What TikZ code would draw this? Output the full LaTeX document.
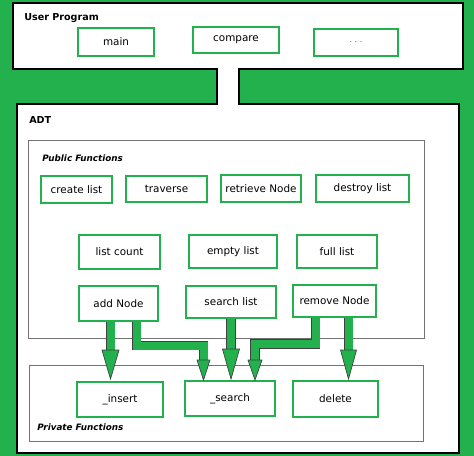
\documentclass[tikz,border=0pt]{standalone}
\usepackage{fontspec}
\setmainfont{DejaVu Sans}
\usetikzlibrary{calc}
\definecolor{paintgreen}{RGB}{34,177,76}
\tikzset{
  fbox/.style={draw=paintgreen, line width=1.4pt, fill=white, inner sep=0pt, font=\fontsize{7.8}{9}\selectfont},
  frame/.style={draw=black, line width=1.5pt, fill=white, line join=miter},
  group/.style={draw=black!55, line width=0.6pt},
  title/.style={anchor=west, inner sep=0.75pt, font=\fontsize{7.2}{8}\selectfont\bfseries},
  subtitle/.style={title, font=\fontsize{6.6}{8}\selectfont\bfseries\itshape},
  pipe/.style={draw=black!75, line width=0.5pt, double=paintgreen, double distance=6pt},
  head/.style={fill=paintgreen, draw=black!75, line width=0.5pt, line join=miter}
}
\newcommand{\blockhead}[3]{\filldraw[head] (#1) -- ++(-#2,-#3) -- ++(2*#2,0) -- cycle;}

\begin{document}
\begin{tikzpicture}[x=0.75pt,y=0.75pt,yscale=-1,xscale=1]
%Background
\fill[paintgreen] (0,0) rectangle (474,456);

%Shape: user program and adt, joined by the opening
\draw[frame] (13,3) -- (463,3) -- (463,69) -- (239,69) -- (239,104) -- (459,104) -- (459,453)
  -- (17,453) -- (17,104) -- (217,104) -- (217,69) -- (13,69) -- cycle;

%Shape: Rectangle [public / private]
\draw[group] (28,140) rectangle (424,338);
\draw[group] (29,365) rectangle (423,441);

% Text Node
\node[title] (userlabel) at (23,18) {User Program};
\node[title] (adtlabel) at (28,120) {ADT};
\node[subtitle] (publabel) at (41,158) {Public Functions};
\node[subtitle] (privlabel) at (36,427) {Private Functions};

% user program boxes
\node[fbox, minimum width=57pt, minimum height=21pt] (main) at (116,42) {main};
\node[fbox, minimum width=64.5pt, minimum height=19.5pt] (compare) at (236,40) {compare};
\node[fbox, minimum width=63pt, minimum height=20.25pt, text=black!65] (more) at (356,42.5) {{\fontsize{6}{7}\selectfont .\,\,.\,\,.}};

% public functions
\node[fbox, minimum width=53.25pt, minimum height=20.25pt] (createlist) at (76.5,189.5) {create list};
\node[fbox, minimum width=60.75pt, minimum height=19.5pt] (traverse) at (166.5,189) {traverse};
\node[fbox, minimum width=60pt, minimum height=20.25pt] (retrieve) at (261,188.5) {retrieve Node};
\node[fbox, minimum width=69.75pt, minimum height=20.25pt] (destroy) at (362.5,188.5) {destroy list};

\node[fbox, minimum width=60.75pt, minimum height=25.5pt] (listcount) at (119.5,252) {list count};
\node[fbox, minimum width=66pt, minimum height=24.75pt] (emptylist) at (233,251.5) {empty list};
\node[fbox, minimum width=60pt, minimum height=24.75pt] (fulllist) at (337,251.5) {full list};

\node[fbox, minimum width=59.25pt, minimum height=26.25pt] (addnode) at (118.5,303.5) {add Node};
\node[fbox, minimum width=67.5pt, minimum height=24pt] (searchlist) at (231,302) {search list};
\node[fbox, minimum width=62.25pt, minimum height=24pt] (removenode) at (334.5,301) {remove Node};

% private functions
\node[fbox, minimum width=64.5pt, minimum height=26.25pt] (insert) at (120,399.5) {\_insert};
\node[fbox, minimum width=67.5pt, minimum height=26.25pt] (search) at (230,398.5) {\_search};
\node[fbox, minimum width=63.75pt, minimum height=27pt] (delete) at (335.5,399) {delete};

% tips of the block arrows
\coordinate (t1) at ($(insert.north)+(-9.5,-2)$);
\coordinate (t2) at ($(search.north)+(-26.5,0)$);
\coordinate (t3) at ($(searchlist.south |- search.north)+(0,-1)$);
\coordinate (t4) at ($(search.north)+(25,0)$);
\coordinate (t5) at ($(delete.north)+(13,-1)$);

%Block arrows
\draw[pipe] ($(addnode.south)+(-8,0)$) -- ($(t1)+(0,-29)$);
\blockhead{t1}{8.5}{29}
\draw[pipe] ($(addnode.south)+(18,0)$) |- ($(t2)+(0,-34.5)$) -- ($(t2)+(0,-20)$);
\blockhead{t2}{6.5}{20}
\draw[pipe] (searchlist.south) -- ($(t3)+(0,-30)$);
\blockhead{t3}{8.5}{30}
\draw[pipe] ($(removenode.south)+(-19,0)$) |- ($(t4)+(0,-36)$) -- ($(t4)+(0,-20)$);
\blockhead{t4}{7}{20}
\draw[pipe] ($(removenode.south)+(14,0)$) -- ($(t5)+(0,-29)$);
\blockhead{t5}{8}{29}
\end{tikzpicture}
\end{document}
